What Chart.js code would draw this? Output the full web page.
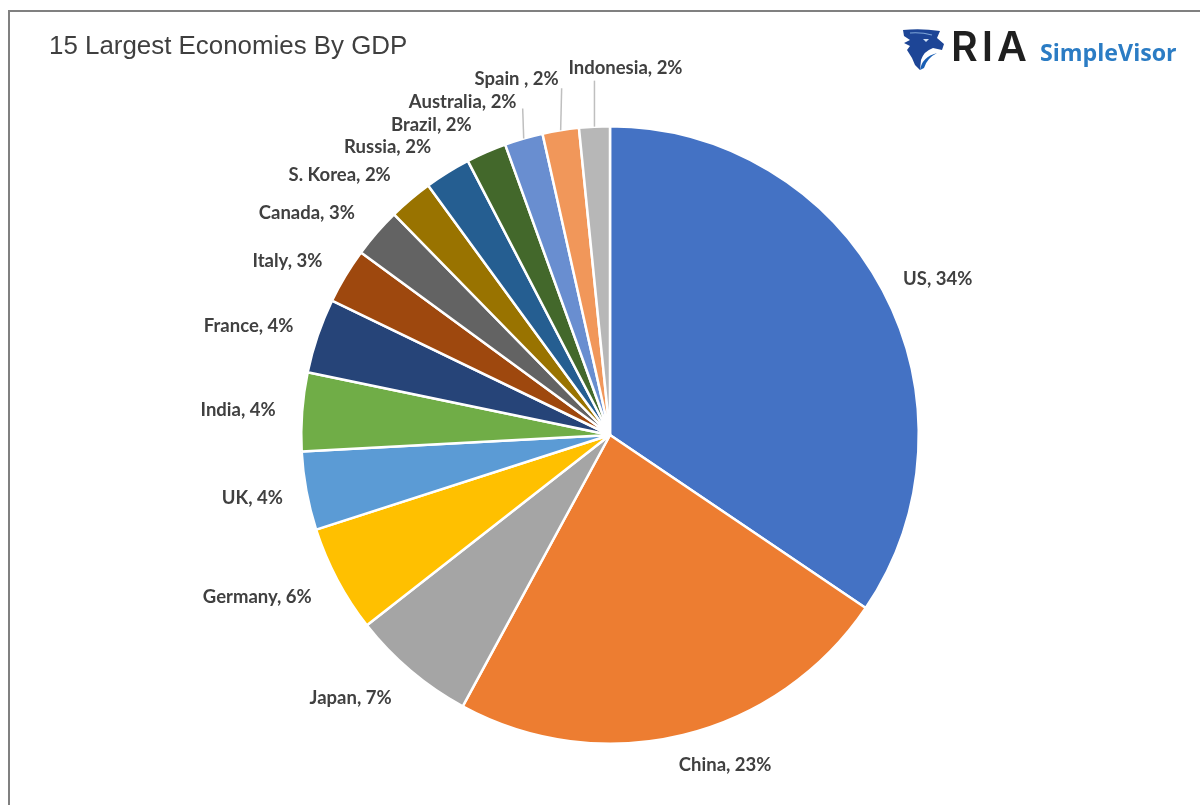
<!DOCTYPE html>
<html>
<head>
<meta charset="utf-8">
<title>15 Largest Economies By GDP</title>
<script src="https://cdn.jsdelivr.net/npm/chart.js@4/dist/chart.umd.min.js"></script>
<style>
	html, body { margin: 0; padding: 0; background: #fff; }
	#page { position: relative; width: 1200px; height: 805px; overflow: hidden; }
	#frame { position: absolute; left: 8px; top: 10px; width: 1200px; height: 900px; border: 2px solid #808080; }
	#title { position: absolute; left: 49px; top: 31px; font: 25.9px "Liberation Sans", sans-serif; color: #3f3f3f; white-space: nowrap; }
	#chart { position: absolute; left: 0; top: 0; }
	#eagle { position: absolute; left: 903px; top: 27px; }
	#ria { position: absolute; left: 951px; top: 21px; font: 600 41px Inter, sans-serif; letter-spacing: 4px; color: #1f1f1f; }
	#visor { position: absolute; left: 1040px; top: 36px; font: 700 23.2px "Open Sans", sans-serif; color: #2b7cc4; white-space: nowrap; }
</style>
</head>
<body>
<div id="page">
	<div id="frame"></div>
	<canvas id="chart" width="1200" height="805"></canvas>
	<div id="title">15 Largest Economies By GDP</div>
	<svg id="eagle" width="44" height="46" viewBox="0 0 44 46">
		<path fill="#1d4596" d="M0 3 Q18 1 37 4 L34 11 L41 17 L39 23 L30 21 Q21 24 18 33 L17 43 L12 38 L9 31 L4 23 L7 19 L1 16 L7 13 L1 9 Z"/>
		<path fill="none" stroke="#7fa6d8" stroke-width="1.2" d="M7 6 Q18 5 29 8"/>
		<path fill="#1a5fb4" d="M17 43 Q19 30 34 26 Q24 31 21 41 Z"/>
		<path fill="#cfe0f4" d="M20 12 L26 12 L23 15 Z"/>
	</svg>
	<div id="ria">RIA</div>
	<div id="visor">SimpleVisor</div>
</div>
<script>
const countries = ["US", "China", "Japan", "Germany", "UK", "India", "France", "Italy", "Canada", "S. Korea", "Russia", "Brazil", "Australia", "Spain ", "Indonesia"];
const gdpShare = [34.4, 23.4, 6.5, 5.6, 4.1, 4.1, 3.9, 2.9, 2.6, 2.3, 2.4, 2.1, 2.0, 1.9, 1.6];
const sliceColors = ["#4472C4", "#ED7D31", "#A5A5A5", "#FFC000", "#5B9BD5", "#70AD47", "#264478", "#9E480E", "#636363", "#997300", "#255E91", "#43682B", "#698ED0", "#F1975A", "#B7B7B7"];

// label centre, relative to the middle of each slice's outer edge
const labelShift = [[55, -11], [42, 30], [-60, 27], [-80, 17], [-54, 7], [-64, -2], [-69, -10], [-58, -15], [-70, -20], [-71, -24], [-60, -25], [-55, -27], [-61, -37], [-44, -51], [31, -59]];
// the narrow slices at the top get a leader line
const leaderShift = { 12: [-1, -30], 13: [1, -42], 14: [0, -46] };

const sliceLabels = {
	id: "sliceLabels",
	afterDatasetsDraw(chart) {
		const ctx = chart.ctx;
		const arcs = chart.getDatasetMeta(0).data;
		ctx.save();
		arcs.forEach((arc, i) => {
			const { x, y, startAngle, endAngle, outerRadius } = arc.getProps(["x", "y", "startAngle", "endAngle", "outerRadius"], true);
			const mid = (startAngle + endAngle) / 2;
			const ax = x + Math.cos(mid) * outerRadius;
			const ay = y + Math.sin(mid) * outerRadius;

			if (leaderShift[i]) {
				ctx.strokeStyle = "#bfbfbf";
				ctx.lineWidth = 1.5;
				ctx.beginPath();
				ctx.moveTo(ax, ay);
				ctx.lineTo(ax + leaderShift[i][0], ay + leaderShift[i][1]);
				ctx.stroke();
			}

			ctx.font = "700 18.5px Lato, sans-serif";
			ctx.fillStyle = "#404040";
			ctx.textAlign = "center";
			ctx.textBaseline = "middle";
			ctx.fillText(countries[i] + ", " + Math.round(gdpShare[i]) + "%", ax + labelShift[i][0], ay + labelShift[i][1]);
		});
		ctx.restore();
	}
};

new Chart(document.getElementById("chart"), {
	type: "pie",
	data: {
		labels: countries,
		datasets: [{
			data: gdpShare,
			backgroundColor: sliceColors,
			borderColor: "#ffffff",
			borderWidth: 2.5
		}]
	},
	options: {
		responsive: false,
		animation: false,
		layout: { padding: { left: 300, right: 280, top: 125, bottom: 60 } },
		plugins: {
			legend: { display: false },
			tooltip: { enabled: false }
		}
	},
	plugins: [sliceLabels]
});
</script>
</body>
</html>
